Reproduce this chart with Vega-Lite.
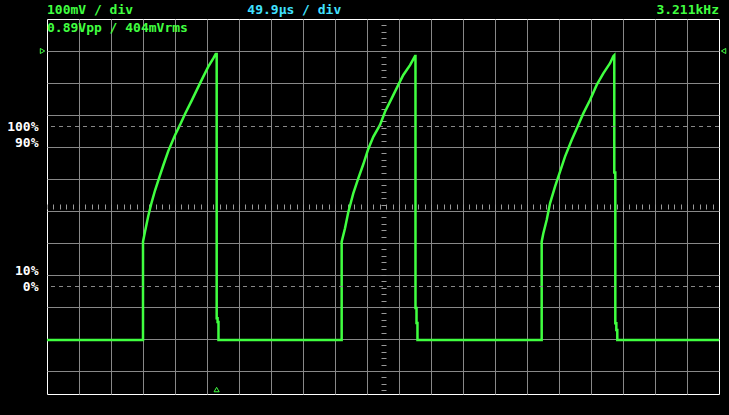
{
  "$schema": "https://vega.github.io/schema/vega-lite/v6.json",
  "width": 672,
  "height": 375,
  "autosize": {"type": "none"},
  "padding": {"left": 47, "top": 19, "right": 10, "bottom": 21},
  "background": "#000000",
  "config": {
    "view": {"stroke": "#ffffff", "strokeWidth": 1, "fill": "#000000"},
    "axis": {"labelFont": "DejaVu Sans Mono", "labelFontWeight": "bold", "labelFontSize": 13, "zindex": 0}
  },
  "resolve": {"axis": {"x": "independent", "y": "independent"}},
  "layer": [
    {
      "data": {"values": [
        {"n": 0, "t_us": 0, "mV": -3},
        {"n": 1, "t_us": 149.7, "mV": -3},
        {"n": 2, "t_us": 149.7, "mV": 304},
        {"n": 3, "t_us": 152.8, "mV": 335},
        {"n": 4, "t_us": 158.0, "mV": 385},
        {"n": 5, "t_us": 163.3, "mV": 428},
        {"n": 6, "t_us": 168.4, "mV": 464},
        {"n": 7, "t_us": 175.1, "mV": 505},
        {"n": 8, "t_us": 181.4, "mV": 543},
        {"n": 9, "t_us": 189.2, "mV": 588},
        {"n": 10, "t_us": 199.6, "mV": 637},
        {"n": 11, "t_us": 207.4, "mV": 669},
        {"n": 12, "t_us": 215.2, "mV": 703},
        {"n": 13, "t_us": 225.6, "mV": 745},
        {"n": 14, "t_us": 235.9, "mV": 788},
        {"n": 15, "t_us": 243.7, "mV": 820},
        {"n": 16, "t_us": 251.5, "mV": 851},
        {"n": 17, "t_us": 259.3, "mV": 877},
        {"n": 18, "t_us": 263.1, "mV": 891},
        {"n": 19, "t_us": 264.6, "mV": 891},
        {"n": 20, "t_us": 264.6, "mV": 65},
        {"n": 21, "t_us": 266.0, "mV": 65},
        {"n": 22, "t_us": 266.0, "mV": 53},
        {"n": 23, "t_us": 267.4, "mV": 53},
        {"n": 24, "t_us": 267.4, "mV": -3},
        {"n": 25, "t_us": 459.5, "mV": -3},
        {"n": 26, "t_us": 459.5, "mV": 304},
        {"n": 27, "t_us": 464.7, "mV": 346},
        {"n": 28, "t_us": 469.8, "mV": 396},
        {"n": 29, "t_us": 477.6, "mV": 455},
        {"n": 30, "t_us": 485.4, "mV": 502},
        {"n": 31, "t_us": 493.2, "mV": 546},
        {"n": 32, "t_us": 501.0, "mV": 594},
        {"n": 33, "t_us": 508.8, "mV": 632},
        {"n": 34, "t_us": 519.3, "mV": 669},
        {"n": 35, "t_us": 527.1, "mV": 710},
        {"n": 36, "t_us": 537.5, "mV": 752},
        {"n": 37, "t_us": 547.8, "mV": 794},
        {"n": 38, "t_us": 555.6, "mV": 825},
        {"n": 39, "t_us": 566.1, "mV": 856},
        {"n": 40, "t_us": 573.9, "mV": 884},
        {"n": 41, "t_us": 574.6, "mV": 884},
        {"n": 42, "t_us": 574.6, "mV": 97},
        {"n": 43, "t_us": 576.2, "mV": 97},
        {"n": 44, "t_us": 576.2, "mV": 50},
        {"n": 45, "t_us": 577.7, "mV": 50},
        {"n": 46, "t_us": 577.7, "mV": -3},
        {"n": 47, "t_us": 771.4, "mV": -3},
        {"n": 48, "t_us": 771.4, "mV": 304},
        {"n": 49, "t_us": 773.9, "mV": 330},
        {"n": 50, "t_us": 779.2, "mV": 372},
        {"n": 51, "t_us": 784.4, "mV": 424},
        {"n": 52, "t_us": 792.2, "mV": 476},
        {"n": 53, "t_us": 800.0, "mV": 523},
        {"n": 54, "t_us": 807.8, "mV": 570},
        {"n": 55, "t_us": 818.2, "mV": 622},
        {"n": 56, "t_us": 828.5, "mV": 669},
        {"n": 57, "t_us": 836.3, "mV": 705},
        {"n": 58, "t_us": 846.8, "mV": 747},
        {"n": 59, "t_us": 857.2, "mV": 794},
        {"n": 60, "t_us": 867.5, "mV": 830},
        {"n": 61, "t_us": 878.0, "mV": 862},
        {"n": 62, "t_us": 883.1, "mV": 884},
        {"n": 63, "t_us": 884.6, "mV": 887},
        {"n": 64, "t_us": 884.6, "mV": 520},
        {"n": 65, "t_us": 886.2, "mV": 520},
        {"n": 66, "t_us": 886.2, "mV": 49},
        {"n": 67, "t_us": 887.8, "mV": 49},
        {"n": 68, "t_us": 887.8, "mV": 28},
        {"n": 69, "t_us": 889.3, "mV": 28},
        {"n": 70, "t_us": 889.3, "mV": -3},
        {"n": 71, "t_us": 1047.9, "mV": -3}
      ]},
      "mark": {"type": "line", "color": "#40ff40", "strokeWidth": 2.5},
      "encoding": {
        "x": {
          "field": "t_us", "type": "quantitative",
          "scale": {"domain": [0, 1047.9], "nice": false, "zero": false},
          "axis": {
            "orient": "bottom", "title": null, "domain": false, "labels": false, "ticks": false,
            "grid": true, "gridColor": "#888888", "gridOpacity": 1, "gridWidth": 1,
            "values": [49.9, 99.8, 149.7, 199.6, 249.5, 299.4, 349.3, 399.2, 449.1, 499, 548.9, 598.8, 648.7, 698.6, 748.5, 798.4, 848.3, 898.2, 948.1, 998]
          }
        },
        "y": {
          "field": "mV", "type": "quantitative",
          "scale": {"domain": [-171.875, 1000], "nice": false, "zero": false},
          "axis": {
            "orient": "left", "title": null, "domain": false, "labels": false, "ticks": false,
            "grid": true, "gridColor": "#888888", "gridOpacity": 1, "gridWidth": 1,
            "values": [-100, 0, 100, 200, 300, 400, 500, 600, 700, 800, 900]
          }
        },
        "order": {"field": "n", "type": "quantitative"}
      }
    },
    {
      "data": {"values": [
        {"level": "100%", "mV": 664.06},
        {"level": "0%", "mV": 164.06}
      ]},
      "mark": {"type": "rule", "color": "#888888", "strokeWidth": 1, "strokeDash": [4, 4]},
      "encoding": {
        "y": {
          "field": "mV", "type": "quantitative",
          "axis": {
            "orient": "left", "title": null, "domain": false, "ticks": false, "grid": false,
            "labels": true, "labelColor": "#ffffff", "labelPadding": 9, "labelBaseline": "middle",
            "labelOverlap": false,
            "values": [664.06, 614.06, 214.06, 164.06],
            "labelExpr": "datum.value > 650 ? '100%' : datum.value > 600 ? '90%' : datum.value > 200 ? '10%' : '0%'"
          }
        }
      }
    },
    {
      "data": {"values": [
        {"marker": "left", "t_us": -7, "mV": 900},
        {"marker": "right", "t_us": 1055, "mV": 900},
        {"marker": "trigger", "t_us": 264.5, "mV": -158}
      ]},
      "mark": {"type": "point", "filled": false, "color": "#40ff40", "strokeWidth": 1, "size": 26, "opacity": 1},
      "encoding": {
        "x": {
          "field": "t_us", "type": "quantitative",
          "axis": {
            "orient": "bottom", "offset": -190, "title": null, "domain": false, "labels": false, "grid": false,
            "ticks": true, "tickSize": 5, "tickColor": "#999999", "tickWidth": 1,
            "values": [0, 9.98, 19.96, 29.94, 39.92, 49.9, 59.88, 69.86, 79.84, 89.82, 99.8, 109.78, 119.76, 129.74, 139.72, 149.7, 159.68, 169.66, 179.64, 189.62, 199.6, 209.58, 219.56, 229.54, 239.52, 249.5, 259.48, 269.46, 279.44, 289.42, 299.4, 309.38, 319.36, 329.34, 339.32, 349.3, 359.28, 369.26, 379.24, 389.22, 399.2, 409.18, 419.16, 429.14, 439.12, 449.1, 459.08, 469.06, 479.04, 489.02, 499, 508.98, 518.96, 528.94, 538.92, 548.9, 558.88, 568.86, 578.84, 588.82, 598.8, 608.78, 618.76, 628.74, 638.72, 648.7, 658.68, 668.66, 678.64, 688.62, 698.6, 708.58, 718.56, 728.54, 738.52, 748.5, 758.48, 768.46, 778.44, 788.42, 798.4, 808.38, 818.36, 828.34, 838.32, 848.3, 858.28, 868.26, 878.24, 888.22, 898.2, 908.18, 918.16, 928.14, 938.12, 948.1, 958.08, 968.06, 978.04, 988.02, 998, 1007.98, 1017.96, 1027.94, 1037.92]
          }
        },
        "y": {
          "field": "mV", "type": "quantitative",
          "axis": {
            "orient": "left", "offset": -339, "title": null, "domain": false, "labels": false, "grid": false,
            "ticks": true, "tickSize": 5, "tickColor": "#999999", "tickWidth": 1,
            "values": [-160, -140, -120, -100, -80, -60, -40, -20, 0, 20, 40, 60, 80, 100, 120, 140, 160, 180, 200, 220, 240, 260, 280, 300, 320, 340, 360, 380, 400, 420, 440, 460, 480, 500, 520, 540, 560, 580, 600, 620, 640, 660, 680, 700, 720, 740, 760, 780, 800, 820, 840, 860, 880, 900, 920, 940, 960, 980]
          }
        },
        "shape": {
          "field": "marker", "type": "nominal",
          "scale": {"domain": ["left", "right", "trigger"], "range": ["triangle-right", "triangle-left", "triangle-up"]},
          "legend": null
        }
      }
    },
    {
      "data": {"values": [{"label": "100mV / div"}]},
      "mark": {"type": "text", "align": "left", "baseline": "alphabetic", "font": "DejaVu Sans Mono", "fontWeight": "bold", "fontSize": 13, "color": "#40ff40"},
      "encoding": {
        "x": {"datum": 0, "type": "quantitative", "axis": null},
        "y": {"datum": 1015.6, "type": "quantitative", "axis": null},
        "text": {"field": "label"}
      }
    },
    {
      "data": {"values": [{"label": "49.9µs / div"}]},
      "mark": {"type": "text", "align": "left", "baseline": "alphabetic", "font": "DejaVu Sans Mono", "fontWeight": "bold", "fontSize": 13, "color": "#40e0ff"},
      "encoding": {
        "x": {"datum": 312.4, "type": "quantitative", "axis": null},
        "y": {"datum": 1015.6, "type": "quantitative", "axis": null},
        "text": {"field": "label"}
      }
    },
    {
      "data": {"values": [{"label": "3.211kHz"}]},
      "mark": {"type": "text", "align": "right", "baseline": "alphabetic", "font": "DejaVu Sans Mono", "fontWeight": "bold", "fontSize": 13, "color": "#40ff40"},
      "encoding": {
        "x": {"datum": 1047.9, "type": "quantitative", "axis": null},
        "y": {"datum": 1015.6, "type": "quantitative", "axis": null},
        "text": {"field": "label"}
      }
    },
    {
      "data": {"values": [{"label": "0.89Vpp / 404mVrms"}]},
      "mark": {"type": "text", "align": "left", "baseline": "alphabetic", "font": "DejaVu Sans Mono", "fontWeight": "bold", "fontSize": 13, "color": "#40ff40"},
      "encoding": {
        "x": {"datum": 0, "type": "quantitative", "axis": null},
        "y": {"datum": 959.4, "type": "quantitative", "axis": null},
        "text": {"field": "label"}
      }
    }
  ]
}
